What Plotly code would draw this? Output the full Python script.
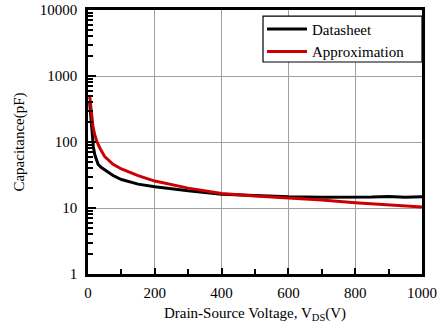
import plotly.graph_objects as go

V_ds = [5, 8, 12, 16, 20, 25, 30, 40, 50, 75, 100, 150, 200, 300, 400, 500, 600, 700, 800, 850, 900, 950, 1000]
C_ds = [400, 250, 130, 85, 65, 52, 46, 41, 38, 31, 27, 23, 21, 18.2, 16.2, 15.3, 14.8, 14.6, 14.5, 14.7, 15, 14.6, 14.8]

V_ap = [5, 10, 15, 20, 27, 35, 50, 75, 100, 150, 200, 300, 400, 500, 600, 700, 800, 900, 1000]
C_ap = [500, 260, 170, 130, 100, 82, 60, 46, 39, 31, 25.6, 20, 16.6, 15.2, 14.3, 13.2, 12, 11.2, 10.4]

y_ticks = [1, 10, 100, 1000, 10000]
y_ticktext = ["1", "10", "100", "1000", "10000"]
y_minor = [m * 10 ** d for d in range(4) for m in range(2, 10)]
x_ticks = [0, 200, 400, 600, 800, 1000]
x_minor = [100, 300, 500, 700, 900]

FONT = "Liberation Serif"

fig = go.Figure()
fig.add_trace(go.Scatter(x=V_ds, y=C_ds, mode="lines", name="Datasheet",
                         line=dict(color="black", width=3)))
fig.add_trace(go.Scatter(x=V_ap, y=C_ap, mode="lines", name="Approximation",
                         line=dict(color="#cc0000", width=3)))

# legend frame
fig.add_shape(type="rect", xref="paper", yref="paper",
              x0=0.524, x1=1.0, y0=0.803, y1=0.977,
              line=dict(color="black", width=1.2), fillcolor="white", layer="above")

fig.update_layout(
    width=442, height=330,
    margin=dict(l=88, r=20, t=10, b=56, autoexpand=False),
    paper_bgcolor="white", plot_bgcolor="white",
    font=dict(family=FONT, size=15, color="black"),
    legend=dict(x=0.521, y=0.99, xanchor="left", yanchor="top",
                bgcolor="rgba(0,0,0,0)", borderwidth=0,
                font=dict(family=FONT, size=15, color="black"),
                tracegroupgap=0, itemwidth=40),
    showlegend=True,
)
fig.update_xaxes(
    range=[0, 1000], tickvals=x_ticks, automargin=False,
    showline=True, linecolor="black", linewidth=2.5, mirror=True,
    ticks="inside", ticklen=6, tickwidth=2, tickcolor="black", ticklabelstandoff=3,
    showgrid=True, gridcolor="#a0a0a0", gridwidth=1.3,
    minor=dict(tickvals=x_minor, ticks="inside", ticklen=5, tickwidth=2, tickcolor="black", showgrid=False),
    title=dict(text="Drain-Source Voltage, V<sub>DS</sub>(V)", font=dict(family=FONT, size=15), standoff=8),
    tickfont=dict(family=FONT, size=15), zeroline=False,
)
fig.update_yaxes(
    type="log", range=[0, 4], tickvals=y_ticks, ticktext=y_ticktext, automargin=False,
    showline=True, linecolor="black", linewidth=2.5, mirror=True,
    ticks="inside", ticklen=8, tickwidth=2, tickcolor="black", ticklabelstandoff=5,
    showgrid=True, gridcolor="#a0a0a0", gridwidth=1.3,
    minor=dict(tickvals=y_minor, ticks="inside", ticklen=5, tickwidth=1.5, tickcolor="black", showgrid=False),
    title=dict(text="Capacitance(pF)", font=dict(family=FONT, size=15), standoff=12),
    tickfont=dict(family=FONT, size=15), zeroline=False,
)

fig.write_html("out.html")
